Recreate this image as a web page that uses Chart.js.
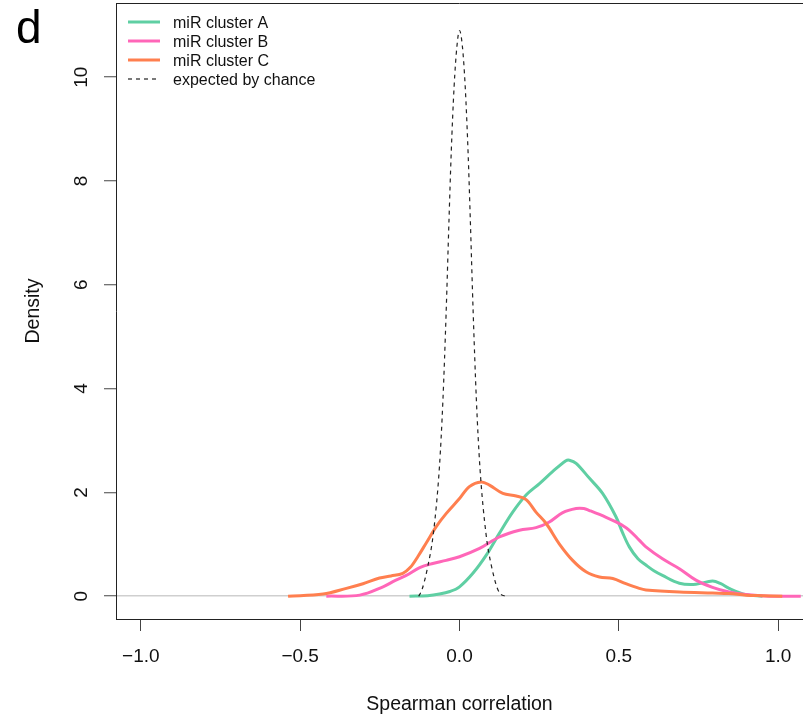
<!DOCTYPE html>
<html>
<head>
<meta charset="utf-8">
<script src="https://cdn.jsdelivr.net/npm/chart.js@4.4.0/dist/chart.umd.min.js"></script>
<style>
  body { margin: 0; background: #fff; }
</style>
</head>
<body>
<canvas id="densidad" width="803" height="719"></canvas>
<script>
// curvas de densidad
const xA = [-0.157, -0.10, -0.063, -0.03, 0.0, 0.042, 0.084, 0.125, 0.167, 0.209, 0.251, 0.292, 0.334, 0.345, 0.366, 0.408, 0.449, 0.491, 0.512, 0.533, 0.56, 0.585, 0.61, 0.637, 0.69, 0.742, 0.794, 0.82, 0.846, 0.899, 0.951];
const yA = [0, 0.01, 0.04, 0.09, 0.18, 0.44, 0.79, 1.21, 1.62, 1.95, 2.17, 2.40, 2.61, 2.62, 2.56, 2.27, 1.98, 1.53, 1.22, 0.95, 0.72, 0.60, 0.49, 0.40, 0.25, 0.23, 0.29, 0.24, 0.15, 0.03, 0.0];

const xB = [-0.418, -0.313, -0.24, -0.209, -0.167, -0.125, -0.084, -0.042, 0, 0.063, 0.125, 0.188, 0.240, 0.282, 0.324, 0.366, 0.390, 0.408, 0.460, 0.491, 0.512, 0.533, 0.564, 0.585, 0.637, 0.690, 0.742, 0.794, 0.846, 0.899, 0.972, 1.071];
const yB = [0, 0.02, 0.18, 0.28, 0.40, 0.55, 0.63, 0.69, 0.76, 0.92, 1.14, 1.27, 1.32, 1.43, 1.61, 1.69, 1.69, 1.65, 1.52, 1.43, 1.36, 1.27, 1.08, 0.95, 0.72, 0.53, 0.31, 0.17, 0.08, 0.03, 0.0, 0.0];

const xC = [-0.538, -0.428, -0.355, -0.303, -0.251, -0.215, -0.178, -0.155, -0.13, -0.104, -0.073, -0.042, 0, 0.031, 0.068, 0.094, 0.136, 0.178, 0.209, 0.240, 0.272, 0.313, 0.355, 0.397, 0.439, 0.481, 0.522, 0.564, 0.585, 0.690, 0.794, 0.846, 0.899, 0.95, 1.013];
const yC = [0, 0.04, 0.15, 0.24, 0.35, 0.39, 0.44, 0.55, 0.77, 1.03, 1.34, 1.59, 1.88, 2.11, 2.20, 2.14, 1.98, 1.93, 1.86, 1.62, 1.40, 1.01, 0.69, 0.47, 0.37, 0.34, 0.24, 0.15, 0.12, 0.08, 0.06, 0.05, 0.02, 0.01, 0.0];

const xAzar = [-0.128, -0.118, -0.10, -0.082, -0.063, -0.052, -0.042, -0.033, -0.026, -0.017, -0.008, 0.0, 0.009, 0.018, 0.027, 0.034, 0.043, 0.053, 0.064, 0.083, 0.101, 0.126, 0.146];
const yAzar = [0, 0.12, 0.56, 1.21, 2.49, 3.78, 5.45, 7.24, 8.54, 9.81, 10.6, 10.9, 10.6, 9.81, 8.54, 7.24, 5.45, 3.78, 2.49, 1.21, 0.56, 0.06, 0.0];

const etiquetas = ["miR cluster A", "miR cluster B", "miR cluster C", "expected by chance"];
const colores = ["#5fcfa3", "#ff66b8", "#ff7f4f", "#222222"];
const ticksX = [-1.0, -0.5, 0.0, 0.5, 1.0];
const ticksY = [0, 2, 4, 6, 8, 10];

const puntos = (xs, ys) => xs.map((x, i) => ({x: x, y: ys[i]}));

const fuente = '"Liberation Sans", Arial, sans-serif';

// ejes, textos y leyenda al estilo de R
const estiloR = {
  id: "estiloR",
  afterDraw(chart) {
    const ctx = chart.ctx;
    const area = chart.chartArea;
    const sx = chart.scales.x;
    const sy = chart.scales.y;
    ctx.save();

    // borde de arriba
    ctx.strokeStyle = "#222";
    ctx.lineWidth = 1;
    ctx.beginPath();
    ctx.moveTo(area.left, area.top + 0.5);
    ctx.lineTo(area.right, area.top + 0.5);
    ctx.stroke();

    ctx.fillStyle = "#111";
    ctx.font = "19px " + fuente;
    ctx.textAlign = "center";
    ctx.textBaseline = "alphabetic";
    ticksX.forEach((v) => {
      let txt = v.toFixed(1).replace("-", "\u2212");
      ctx.fillText(txt, sx.getPixelForValue(v), 661.5);
    });
    ticksY.forEach((v) => {
      ctx.save();
      ctx.translate(87, sy.getPixelForValue(v));
      ctx.rotate(-Math.PI / 2);
      ctx.fillText(String(v), 0, 0);
      ctx.restore();
    });

    ctx.font = "19.5px " + fuente;
    ctx.fillText("Spearman correlation", (area.left + area.right) / 2, 710);
    ctx.save();
    ctx.translate(39, (area.top + area.bottom) / 2);
    ctx.rotate(-Math.PI / 2);
    ctx.fillText("Density", 0, 0);
    ctx.restore();

    // letra del panel
    ctx.font = "46px " + fuente;
    ctx.textAlign = "left";
    ctx.fillStyle = "#000";
    ctx.fillText("d", 16, 43);

    // leyenda
    ctx.font = "16px " + fuente;
    ctx.fillStyle = "#111";
    chart.data.datasets.forEach((ds, i) => {
      let y = 22 + i * 19;
      ctx.strokeStyle = ds.borderColor;
      ctx.lineWidth = ds.borderWidth;
      ctx.setLineDash(ds.borderDash || []);
      ctx.beginPath();
      ctx.moveTo(128, y);
      ctx.lineTo(160, y);
      ctx.stroke();
      ctx.setLineDash([]);
      ctx.fillText(ds.label, 173, y + 6);
    });
    ctx.restore();
  }
};

const ctx = document.getElementById("densidad").getContext("2d");
new Chart(ctx, {
  type: "line",
  data: {
    datasets: [
      {label: etiquetas[0], data: puntos(xA, yA), borderColor: colores[0], borderWidth: 3, order: 4},
      {label: etiquetas[1], data: puntos(xB, yB), borderColor: colores[1], borderWidth: 3, order: 3},
      {label: etiquetas[2], data: puntos(xC, yC), borderColor: colores[2], borderWidth: 3, order: 2},
      {label: etiquetas[3], data: puntos(xAzar, yAzar), borderColor: colores[3], borderWidth: 1.2, borderDash: [4, 4], order: 1,
       cubicInterpolationMode: "monotone"},
    ],
  },
  options: {
    responsive: false,
    animation: false,
    elements: {point: {radius: 0}, line: {tension: 0.35, fill: false}},
    layout: {padding: {top: 3, left: 0, right: 0, bottom: 0}},
    plugins: {
      legend: {display: false},
      tooltip: {enabled: false},
    },
    scales: {
      x: {
        type: "linear",
        min: -1.078,
        max: 1.078,
        afterBuildTicks: (s) => { s.ticks = ticksX.map((v) => ({value: v})); },
        afterFit: (s) => { s.height = 100; },
        ticks: {display: false},
        grid: {drawOnChartArea: false, drawTicks: true, tickLength: 12, tickColor: "#444", tickWidth: 1},
        border: {display: true, color: "#222", width: 1},
      },
      y: {
        type: "linear",
        min: -0.44,
        max: 11.43,
        afterBuildTicks: (s) => { s.ticks = ticksY.map((v) => ({value: v})); },
        afterFit: (s) => { s.width = 116; },
        ticks: {display: false},
        grid: {
          drawOnChartArea: true,
          drawTicks: true,
          tickLength: 12,
          tickColor: "#444",
          tickWidth: 1,
          lineWidth: 1.5,
          color: (c) => (c.tick && c.tick.value === 0 ? "#cfcfcf" : "rgba(0,0,0,0)"),
        },
        border: {display: true, color: "#222", width: 1},
      },
    },
  },
  plugins: [estiloR],
});
</script>
</body>
</html>
